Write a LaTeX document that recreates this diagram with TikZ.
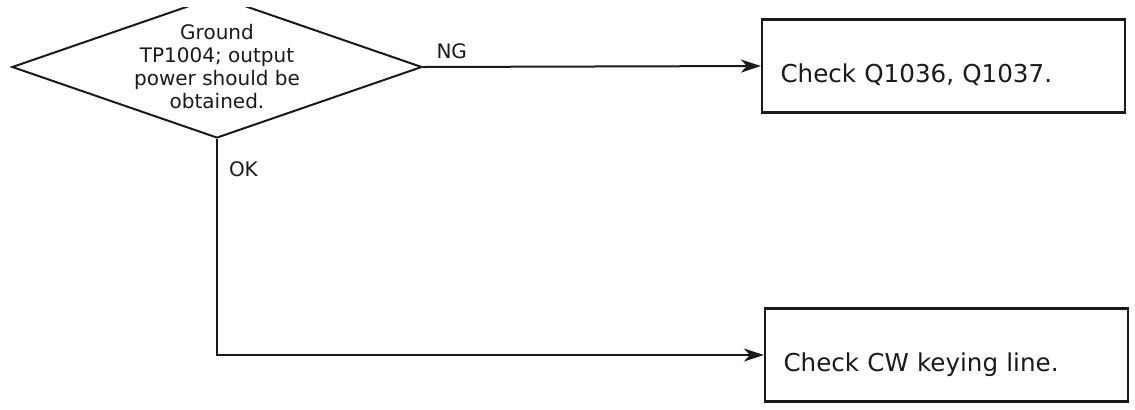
\documentclass[tikz,border=0pt]{standalone}
\usepackage{fontspec}
\setmainfont{DejaVu Sans}
\usetikzlibrary{arrows.meta,shapes.geometric}
\definecolor{cink}{HTML}{1A1A1A}

\begin{document}
\begin{tikzpicture}[x=0.5pt,y=-0.5pt,
  decision/.style={diamond, draw=cink, line width=1pt, aspect=2.9, inner sep=-3pt,
    minimum width=205pt, minimum height=71pt, align=center, text=cink,
    font=\fontsize{10}{11.5}\selectfont},
  box/.style={draw=cink, line width=1.1pt, minimum width=181.5pt, minimum height=46.5pt,
    text width=163pt, align=left, inner xsep=9pt, text height=16pt, text depth=0pt,
    text=cink, font=\fontsize{12.3}{14}\selectfont},
  lbl/.style={font=\fontsize{10}{12}\selectfont, text=cink},
  arr/.style={-{Stealth[length=10pt, width=6.5pt, inset=3pt]}, line width=1pt, draw=cink}]

\fill[white] (0,0) rectangle (1135,409);
\useasboundingbox (0,0) rectangle (1135,409);

\begin{scope}
\clip (0,7) rectangle (1135,409);
\node[decision] (ground) at (217,67) {Ground\\TP1004; output\\power should be\\obtained.};
\end{scope}
\node[box] (chkq) at (943.5,66) {Check Q1036, Q1037.};
\node[box] (chkcw) at (946.5,355) {Check CW keying line.};

\draw[arr] (ground.east) -- node[pos=0.085, above, lbl, inner sep=3.5pt] {NG} (chkq.west);
\draw[arr] (ground.south) |- node[pos=0.07, right, lbl, inner sep=5.5pt] {OK} (chkcw.west);
\end{tikzpicture}
\end{document}
